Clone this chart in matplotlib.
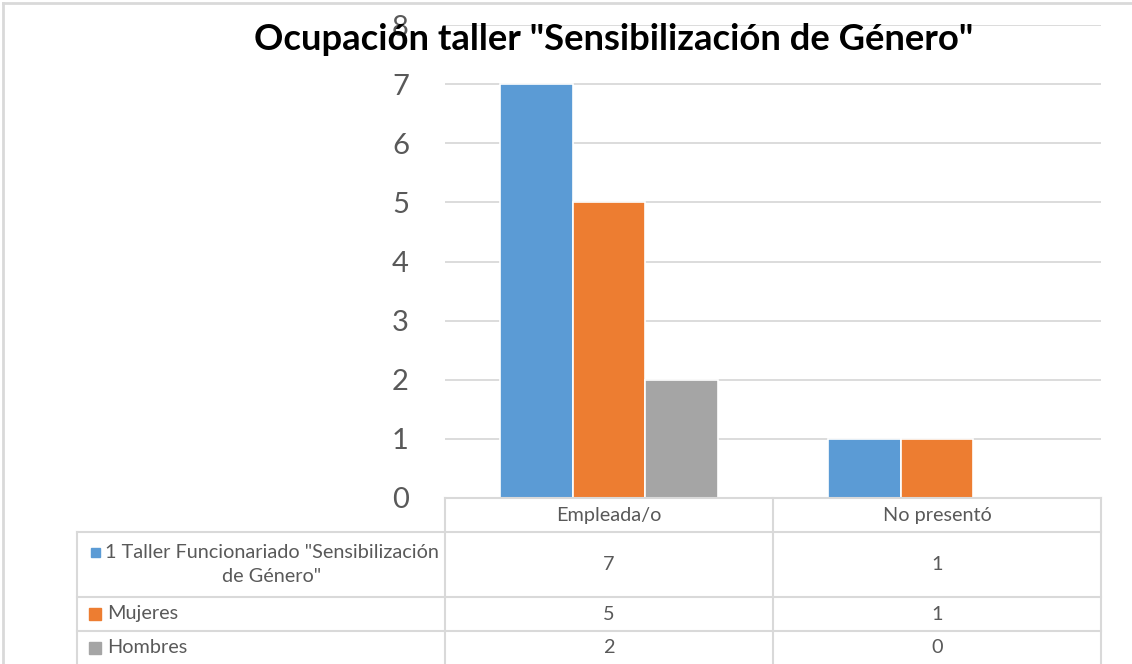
import matplotlib
matplotlib.use("Agg")
import matplotlib.pyplot as plt
from matplotlib.lines import Line2D
from matplotlib.patches import Rectangle

plt.rcParams['font.family'] = ['Lato', 'DejaVu Sans']

# datos
categorias = ["Empleada/o", "No presentó"]
series = ['1 Taller Funcionariado "Sensibilización\nde Género"', "Mujeres", "Hombres"]
taller = [7, 1]
mujeres = [5, 1]
hombres = [2, 0]
valores = [taller, mujeres, hombres]
colores = ["#5b9bd5", "#ed7d31", "#a5a5a5"]
titulo = 'Ocupación taller "Sensibilización de Género"'

W, H = 1132, 664
fig = plt.figure(figsize=(W / 100, H / 100), dpi=100)

def fx(px):
    return px / W

def fy(py):
    return 1 - py / H

# area del grafico
x0, x1, y0, y1 = 445, 1101, 25, 498
ax = fig.add_axes([fx(x0), fy(y1), fx(x1) - fx(x0), fy(y0) - fy(y1)])
ax.set_xlim(0, len(categorias))
ax.set_ylim(0, 8)
ax.set_yticks(range(0, 9))
ax.yaxis.grid(True, color="#d9d9d9", linewidth=1.3)
ax.set_axisbelow(True)
for s in ax.spines.values():
    s.set_visible(False)
ax.set_xticks([])
ax.tick_params(axis="y", length=0, labelsize=21, labelcolor="#595959", pad=26)

ancho = 0.221
for i, (vals, col) in enumerate(zip(valores, colores)):
    xs = [c + 0.5 + (i - 1) * ancho for c in range(len(categorias))]
    ax.bar(xs, vals, width=ancho, color=col, edgecolor="white", linewidth=1.2, zorder=3)

fig.text(fx(614), fy(40), titulo, ha="center", va="center",
         fontsize=26.2, fontweight="bold", color="black")

# borde exterior
fig.add_artist(Line2D([fx(3), fx(3)], [fy(3), 0], color="#d9d9d9", lw=2))
fig.add_artist(Line2D([fx(3), 1], [fy(3), fy(3)], color="#d9d9d9", lw=2))

# tabla de datos
gris = "#d9d9d9"
texto = "#595959"
fs = 14.3
col_x = [77, 445, 773, 1101]
filas_y = [498, 532, 597, 631, 664]

def hline(y, xa, xb):
    fig.add_artist(Line2D([fx(xa), fx(xb)], [fy(y), fy(y)], color=gris, lw=1.5))

def vline(x, ya, yb):
    fig.add_artist(Line2D([fx(x), fx(x)], [fy(ya), fy(yb)], color=gris, lw=1.5))

hline(filas_y[0], col_x[1], col_x[3])
for y in filas_y[1:4]:
    hline(y, col_x[0], col_x[3])
vline(col_x[0], filas_y[1], H)
for x in col_x[1:]:
    vline(x, filas_y[0], H)

for j, cat in enumerate(categorias):
    cx = (col_x[j + 1] + col_x[j + 2]) / 2
    fig.text(fx(cx), fy((filas_y[0] + filas_y[1]) / 2), cat, ha="center", va="center",
             fontsize=fs, color=texto)

marcas = [8.5, 12, 12]
for i, (nombre, vals, col) in enumerate(zip(series, valores, colores)):
    yc = (filas_y[i + 1] + filas_y[i + 2]) / 2
    m = marcas[i]
    if i == 0:
        fig.text(fx(272), fy(yc), nombre, ha="center", va="center", fontsize=fs,
                 color=texto, multialignment="center", linespacing=1.5)
        my = 552.5
        mx = 91
    else:
        fig.text(fx(107), fy(yc), nombre, ha="left", va="center", fontsize=fs, color=texto)
        my = yc
        mx = 89
    fig.add_artist(Rectangle((fx(mx), fy(my + m / 2)), fx(m), m / H, color=col,
                             transform=fig.transFigure))
    for j, v in enumerate(vals):
        cx = (col_x[j + 1] + col_x[j + 2]) / 2
        fig.text(fx(cx), fy(yc), str(v), ha="center", va="center", fontsize=fs, color=texto)

fig.savefig("out.png", dpi=100)
